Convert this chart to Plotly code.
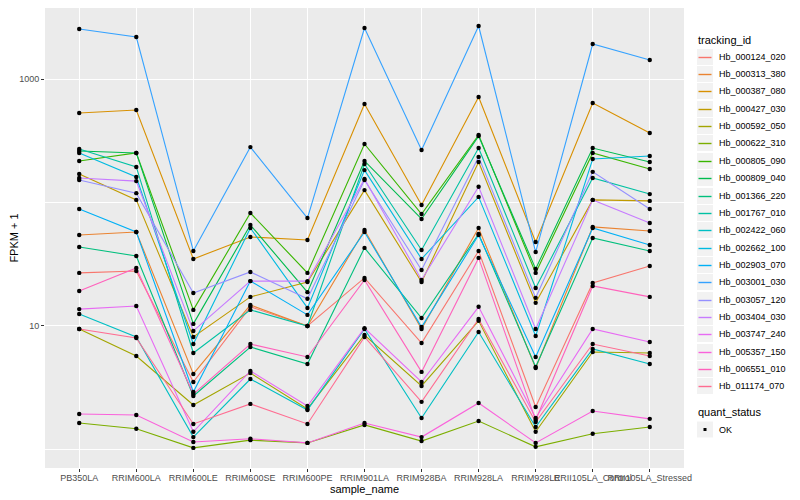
import plotly.graph_objects as go

samples = ["PB350LA", "RRIM600LA", "RRIM600LE", "RRIM600SE", "RRIM600PE", "RRIM901LA",
           "RRIM928BA", "RRIM928LA", "RRIM928LE", "RRII105LA_Control", "RRII105LA_Stressed"]

tracking_ids = ["Hb_000124_020", "Hb_000313_380", "Hb_000387_080", "Hb_000427_030", "Hb_000592_050",
                "Hb_000622_310", "Hb_000805_090", "Hb_000809_040", "Hb_001366_220", "Hb_001767_010",
                "Hb_002422_060", "Hb_002662_100", "Hb_002903_070", "Hb_003001_030", "Hb_003057_120",
                "Hb_003404_030", "Hb_003747_240", "Hb_005357_150", "Hb_006551_010", "Hb_011174_070"]

colors = ["#F8766D", "#EA8331", "#D89000", "#C09B00", "#A3A500", "#7CAE00", "#39B600", "#00BB4E",
          "#00BF7D", "#00C1A3", "#00BFC4", "#00BAE0", "#00B0F6", "#35A2FF", "#9590FF", "#C77CFF",
          "#E76BF3", "#FA62DB", "#FF62BC", "#FF6C91"]

status_levels = ["OK"]

# FPKM + 1 per sample (order of samples above)
s01 = [26.9, 27.9, 3.52, 14.3, 10.0, 24.5, 7.28, 40.5, 2.21, 22.3, 30.6]
s02 = [54.6, 57.7, 4.09, 14.8, 10.0, 59.9, 9.46, 62.2, 4.57, 63.4, 58.8]
s03 = [531, 561, 34.9, 52.6, 49.7, 628, 95.5, 714, 47.9, 639, 365]
s04 = [170, 105, 8.15, 17.2, 22.7, 126, 22.7, 213, 15.4, 105, 103]
s05 = [9.46, 5.71, 2.29, 4.16, 2.13, 8.45, 3.27, 11.0, 1.39, 6.16, 6.04]
s06 = [1.64, 1.47, 1.03, 1.19, 1.13, 1.58, 1.17, 1.70, 1.05, 1.34, 1.52]
s07 = [217, 252, 13.5, 82.2, 26.9, 298, 80.7, 352, 26.9, 252, 187]
s08 = [261, 252, 10.4, 65.8, 18.8, 217, 73.5, 345, 29.0, 276, 213]
s09 = [43.6, 36.9, 2.71, 6.76, 4.92, 42.9, 11.6, 55.6, 4.66, 51.6, 40.5]
s10 = [271, 194, 6.04, 13.5, 10.0, 205, 41.2, 276, 20.3, 158, 117]
s11 = [12.5, 8.15, 1.26, 3.72, 2.09, 9.46, 1.80, 8.94, 1.52, 6.52, 4.92]
s12 = [252, 161, 7.14, 62.2, 14.0, 183, 34.9, 111, 8.30, 225, 238]
s13 = [88.5, 57.7, 2.92, 23.1, 12.3, 57.7, 9.8, 54.6, 5.61, 62.2, 45.3]
s14 = [2541, 2188, 40.5, 281, 74.8, 2590, 266, 2687, 39.7, 1920, 1424]
s15 = [152, 119, 18.5, 27.4, 16.6, 152, 28.4, 234, 16.9, 177, 88.5]
s16 = [158, 149, 9.12, 23.1, 23.1, 155, 23.6, 134, 9.46, 105, 68.2]
s17 = [13.7, 14.5, 1.39, 4.33, 2.25, 9.6, 3.52, 14.3, 1.80, 9.46, 7.42]
s18 = [1.94, 1.90, 1.15, 1.22, 1.13, 1.64, 1.26, 2.38, 1.13, 2.05, 1.77]
s19 = [19.2, 29.5, 2.81, 7.14, 5.61, 23.6, 4.25, 35.6, 1.73, 21.1, 17.2]
s20 = [9.46, 8.00, 1.61, 2.34, 1.61, 8.15, 2.43, 11.4, 1.67, 7.14, 5.71]

series = [s01, s02, s03, s04, s05, s06, s07, s08, s09, s10,
          s11, s12, s13, s14, s15, s16, s17, s18, s19, s20]

fig = go.Figure()
for name, col, vals in zip(tracking_ids, colors, series):
    fig.add_trace(go.Scatter(x=samples, y=vals, mode="lines", name=name,
                             line=dict(color=col, width=1.1), showlegend=False))

all_x, all_y = [], []
for vals in series:
    all_x += samples
    all_y += vals
fig.add_trace(go.Scatter(x=all_x, y=all_y, mode="markers", name=status_levels[0],
                         marker=dict(color="black", size=4.4, symbol="circle"),
                         showlegend=False))

# ---- layout geometry (page has an 8px body margin) ----
FIG_W, FIG_H = 792, 492
ML, MR, MT, MB = 37, 116, 0, 32
PAN_W = FIG_W - ML - MR
PAN_H = FIG_H - MT - MB
OFF = 8


def px(sx):
    return (sx - OFF - ML) / PAN_W


def py(sy):
    return (FIG_H - MB - (sy - OFF)) / PAN_H


shapes, annotations = [], []
LEG_X0, LEG_X1, TXT_X = 697, 713, 717
KEY_H = 17.35

annotations.append(dict(x=px(696), y=py(40.5), xref="paper", yref="paper", text="tracking_id",
                        showarrow=False, xanchor="left", yanchor="middle",
                        font=dict(size=11, color="black")))
for i, (name, col) in enumerate(zip(tracking_ids, colors)):
    cy = round(56.7 + i * KEY_H)
    shapes.append(dict(type="rect", xref="paper", yref="paper", x0=px(LEG_X0), x1=px(LEG_X1),
                       y0=py(cy - 8), y1=py(cy + 8), fillcolor="#F2F2F2", line=dict(width=0),
                       layer="above"))
    shapes.append(dict(type="line", xref="paper", yref="paper", x0=px(LEG_X0 + 1.5), x1=px(LEG_X1 - 1.5),
                       y0=py(cy + 0.5), y1=py(cy + 0.5), line=dict(color=col, width=1.4), layer="above"))
    annotations.append(dict(x=px(TXT_X), y=py(cy), xref="paper", yref="paper", text=name,
                            showarrow=False, xanchor="left", yanchor="middle",
                            font=dict(size=9, color="black")))

annotations.append(dict(x=px(696), y=py(412.3), xref="paper", yref="paper", text="quant_status",
                        showarrow=False, xanchor="left", yanchor="middle",
                        font=dict(size=11, color="black")))
cy2 = 429.5
shapes.append(dict(type="rect", xref="paper", yref="paper", x0=px(LEG_X0), x1=px(LEG_X1),
                   y0=py(cy2 - 8), y1=py(cy2 + 8), fillcolor="#F2F2F2", line=dict(width=0),
                   layer="above"))
shapes.append(dict(type="rect", xref="paper", yref="paper", x0=px(703.5), x1=px(706.5),
                   y0=py(cy2 - 1.5), y1=py(cy2 + 1.5), fillcolor="black", line=dict(width=0),
                   layer="above"))
annotations.append(dict(x=px(TXT_X), y=py(cy2), xref="paper", yref="paper", text=status_levels[0],
                        showarrow=False, xanchor="left", yanchor="middle",
                        font=dict(size=9, color="black")))

fig.update_layout(
    width=FIG_W, height=FIG_H,
    paper_bgcolor="white", plot_bgcolor="#EBEBEB",
    margin=dict(l=ML, r=MR, t=MT, b=MB, autoexpand=False),
    font=dict(family="Liberation Sans, Arial, sans-serif", color="black"),
    showlegend=False,
    xaxis=dict(type="category", range=[-0.6, 10.6], showgrid=True, gridcolor="white", gridwidth=1.1,
               ticks="outside", ticklen=3, tickcolor="#333333", tickangle=0, ticklabelstandoff=-2,
               tickfont=dict(size=9, color="#4D4D4D"), zeroline=False, showline=False,
               title=dict(text="sample_name", font=dict(size=11), standoff=2)),
    yaxis=dict(type="log", range=[-0.15, 3.575], tickvals=[10, 1000], ticktext=["10", "1000"],
               showgrid=True, gridcolor="white", gridwidth=1.1,
               minor=dict(tickvals=[1, 100], showgrid=True, gridcolor="white", gridwidth=0.55, ticks=""),
               ticks="outside", ticklen=3, tickcolor="#333333",
               tickfont=dict(size=9, color="#4D4D4D"), zeroline=False, showline=False,
               title=dict(text="FPKM + 1", font=dict(size=11), standoff=6)),
    shapes=shapes,
    annotations=annotations,
)

fig.write_html("out.html")
